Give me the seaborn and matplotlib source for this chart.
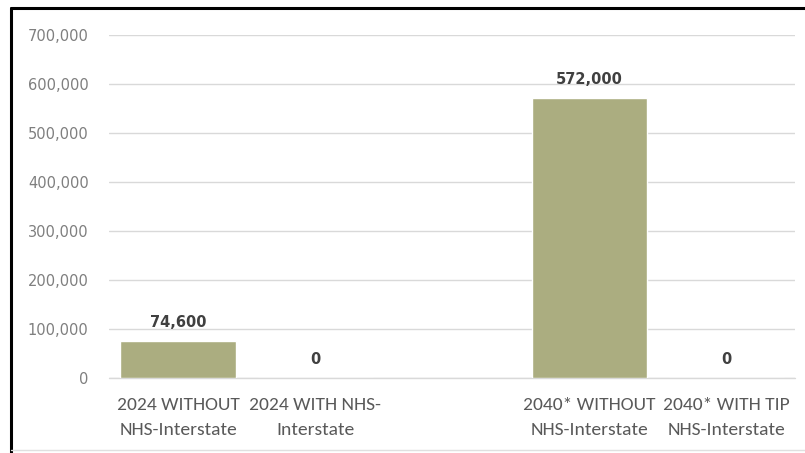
import matplotlib
matplotlib.use("Agg")
import matplotlib.pyplot as plt
import seaborn as sns
import pandas as pd
import numpy as np
from matplotlib.lines import Line2D
from matplotlib.ticker import FuncFormatter

categories = ["2024 WITHOUT\nNHS-Interstate", "2024 WITH NHS-\nInterstate", " ",
              "2040* WITHOUT\nNHS-Interstate", "2040* WITH TIP\nNHS-Interstate"]
values = [74600, 0, np.nan, 572000, 0]
value_labels = ["74,600", "0", "", "572,000", "0"]
yticks = [0, 100000, 200000, 300000, 400000, 500000, 600000, 700000]

sns.set_theme(style="white")
plt.rcParams['font.family'] = ['DejaVu Sans']

df = pd.DataFrame({"cat": categories, "val": values})

fig = plt.figure(figsize=(8.05, 4.53), dpi=100)
ax = fig.add_axes([0.136, 0.1656, 0.852, 0.7572])

sns.barplot(data=df, x="cat", y="val", order=categories, color="#ABAD80",
            saturation=1, width=0.84, ax=ax, zorder=3)

ax.set_ylim(0, 700000)
ax.set_yticks(yticks)
ax.yaxis.set_major_formatter(FuncFormatter(lambda v, p: f"{int(v):,}"))
ax.grid(axis="y", color="#d9d9d9", linewidth=1, zorder=0)
ax.axhline(0, color="#d9d9d9", linewidth=1, zorder=1, clip_on=False)
ax.set_axisbelow(True)
for s in ax.spines.values():
    s.set_visible(False)
ax.set_xlabel("")
ax.set_ylabel("")
ax.tick_params(axis="y", length=0, pad=15, labelsize=10.5, labelcolor="#7f7f7f")
ax.tick_params(axis="x", length=0, pad=14, labelsize=14, labelcolor="#595959")
for t in ax.get_xticklabels():
    t.set_family(["Carlito", "Sofia Sans Semi Condensed", "DejaVu Sans"])
    t.set_linespacing(1.65)

for i, (v, lab) in enumerate(zip(values, value_labels)):
    if lab:
        ax.annotate(lab, (i, v), xytext=(0, 8), textcoords="offset points",
                    ha="center", va="bottom", fontsize=10.5, fontweight="bold",
                    color="#404040")

# outer border
fig.add_artist(Line2D([11/805, 11/805], [0, 1 - 8/453], transform=fig.transFigure,
                      color="black", linewidth=2.2))
fig.add_artist(Line2D([11/805, 1], [1 - 8/453, 1 - 8/453], transform=fig.transFigure,
                      color="black", linewidth=2.2))
fig.add_artist(Line2D([11/805, 1], [3/453, 3/453], transform=fig.transFigure,
                      color="#e0e0e0", linewidth=1))

fig.savefig("out.png", dpi=100)
